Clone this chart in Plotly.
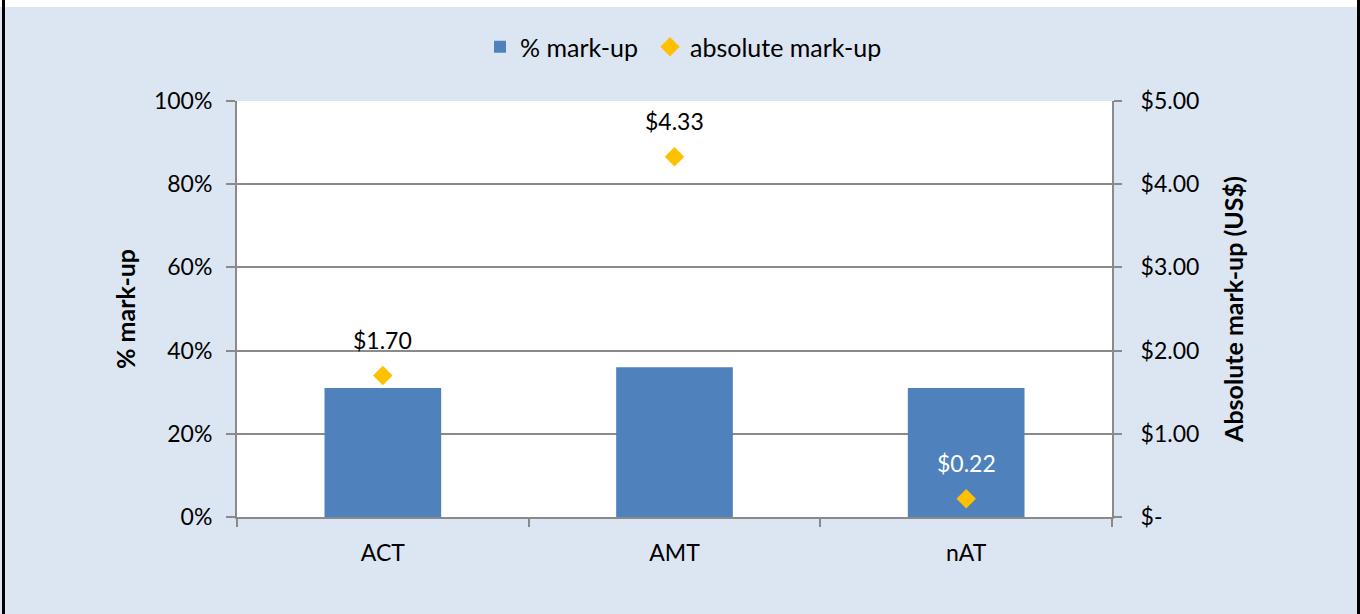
import plotly.graph_objects as go

categories = ["ACT", "AMT", "nAT"]
pct_markup = [0.31, 0.36, 0.31]
abs_markup = [1.70, 4.33, 0.22]
abs_label_colors = ["#000000", "#000000", "#FFFFFF"]
left_tickvals = [0, 0.2, 0.4, 0.6, 0.8, 1.0]
left_ticktext = ["0%", "20%", "40%", "60%", "80%", "100%"]
right_tickvals = [0, 1, 2, 3, 4, 5]
right_ticktext = ["$-", "$1.00", "$2.00", "$3.00", "$4.00", "$5.00"]

W, H = 1360, 614
L, R, T, B = 237, 248, 101, 97
PW, PH = W - L - R, H - T - B

def px_x(px):
    return (px - L) / PW

def px_y(py):
    return (H - B - py) / PH

FONT = "Lato"
GRID = "#8A8A8A"
BG = "#DCE6F2"

fig = go.Figure()
fig.add_trace(go.Bar(
    x=categories, y=pct_markup, name="% mark-up",
    marker=dict(color="#4F81BD", line=dict(width=0)),
    width=0.4, yaxis="y", legend="legend",
))
fig.add_trace(go.Scatter(
    x=categories, y=abs_markup, name="absolute mark-up",
    mode="markers", marker=dict(symbol="diamond", size=15, color="#FFC000"),
    yaxis="y2", legend="legend2",
))

annotations = []
for c, v, col in zip(categories, abs_markup, abs_label_colors):
    annotations.append(dict(
        x=c, y=v, xref="x", yref="y2", text=f"${v:.2f}", showarrow=False,
        yshift=36, font=dict(family=FONT, size=23, color=col),
    ))

shapes = [
    dict(type="rect", xref="paper", yref="paper", x0=px_x(0), x1=px_x(W),
         y0=px_y(7), y1=px_y(0), fillcolor="white", line=dict(width=0), layer="below"),
    dict(type="rect", xref="paper", yref="paper", x0=px_x(2), x1=px_x(5),
         y0=px_y(H), y1=px_y(0), fillcolor="black", line=dict(width=0), layer="below"),
    dict(type="rect", xref="paper", yref="paper", x0=px_x(1357), x1=px_x(1361),
         y0=px_y(H), y1=px_y(0), fillcolor="black", line=dict(width=0), layer="below"),
]

axis_font = dict(family=FONT, size=23, color="#000000")
legend_common = dict(orientation="h", xanchor="left", y=px_y(47), yanchor="middle",
                     font=dict(family=FONT, size=25), bgcolor="rgba(0,0,0,0)",
                     itemwidth=30)

fig.update_layout(
    width=W, height=H,
    margin=dict(l=L, r=R, t=T, b=B, pad=0),
    paper_bgcolor=BG, plot_bgcolor="white",
    font=dict(family=FONT, size=23, color="#000000"),
    showlegend=True,
    legend=dict(x=px_x(480), **legend_common),
    legend2=dict(x=px_x(650), **legend_common),
    xaxis=dict(
        type="category", showline=True, linecolor=GRID, linewidth=2,
        ticks="outside", tickson="boundaries", ticklen=8, tickcolor=GRID, tickwidth=2,
        showgrid=False, tickfont=axis_font, ticklabelstandoff=14,
    ),
    yaxis=dict(
        range=[0, 1], tickvals=left_tickvals, ticktext=left_ticktext,
        showline=True, linecolor=GRID, linewidth=2,
        ticks="outside", ticklen=9, tickcolor=GRID, tickwidth=2,
        showgrid=True, gridcolor=GRID, gridwidth=2, zeroline=False,
        tickfont=axis_font, ticklabelstandoff=9,
        title=dict(text="<b>% mark-up</b>", font=dict(family=FONT, size=25), standoff=11),
    ),
    yaxis2=dict(
        range=[0, 5], tickvals=right_tickvals, ticktext=right_ticktext,
        overlaying="y", side="right",
        showline=True, linecolor=GRID, linewidth=2,
        ticks="outside", ticklen=8, tickcolor=GRID, tickwidth=2,
        showgrid=False, zeroline=False,
        tickfont=axis_font, ticklabelstandoff=14,
        title=dict(text="<b>Absolute mark-up (US$)</b>", font=dict(family=FONT, size=25), standoff=27),
    ),
    annotations=annotations,
    shapes=shapes,
)

fig.write_html("out.html", config={"displayModeBar": False},
               post_script="document.body.style.margin='0';document.body.style.overflow='hidden';")
